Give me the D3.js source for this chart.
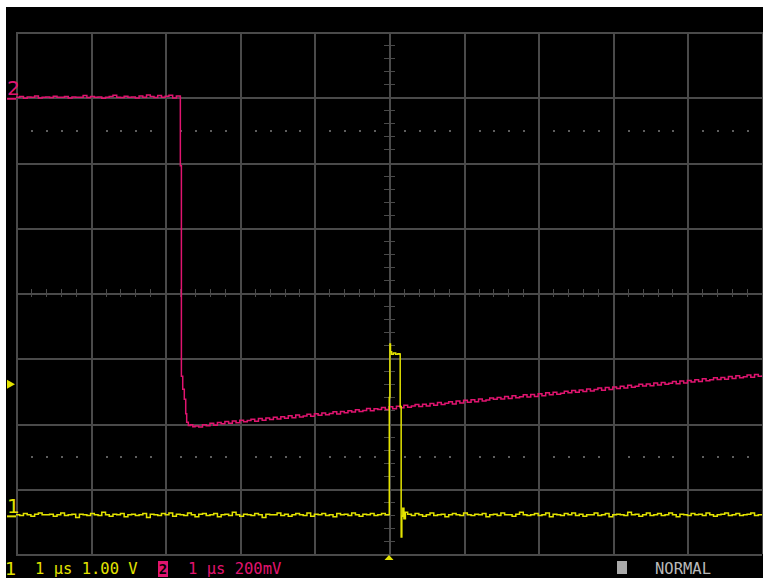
<!DOCTYPE html>
<html>
<head>
<meta charset="utf-8">
<script src="https://cdn.jsdelivr.net/npm/d3@7"></script>
<style>
  html, body { margin: 0; padding: 0; background: #fff; }
  svg { display: block; }
</style>
</head>
<body>
<svg id="scope" width="763" height="578"></svg>
<script>
// ---- Acquisition settings ----
const timeDivs = [-5, -4, -3, -2, -1, 0, 1, 2, 3, 4, 5];   // 1 µs/div, trigger at centre
const voltDivs = [-4, -3, -2, -1, 0, 1, 2, 3, 4];
const sampleStep = 0.05;                                   // µs between stored samples

const ch1VoltsPerDiv = 1.0;     // V
const ch1OffsetDiv = -3.4;
const ch2MilliVoltsPerDiv = 200; // mV
const ch2OffsetDiv = 3.0;
const triggerLevel = 2.0;       // V on CH1

// ---- CH1 (V) ----
// t = -5.00 … -0.05 µs
const ch1Pre = [
  0.00,-0.01,0.02,0.00,-0.02,0.01,0.03,0.00,0.00,0.01,
  -0.02,0.00,0.03,-0.01,0.00,0.01,-0.04,0.01,0.00,-0.01,
  0.02,0.00,-0.01,0.04,0.00,-0.02,0.01,0.00,0.02,-0.03,
  0.00,0.01,-0.01,0.00,0.02,-0.04,0.01,0.00,-0.01,0.02,
  0.00,0.03,-0.02,0.01,0.00,-0.01,0.03,0.00,-0.03,0.01,
  0.02,-0.01,0.00,0.02,-0.03,0.00,0.01,-0.01,0.04,0.00,
  -0.02,0.01,0.00,-0.01,0.02,0.00,-0.04,0.01,0.00,0.00,
  0.03,-0.01,0.01,-0.02,0.00,0.02,0.00,-0.01,0.03,-0.02,
  0.01,0.00,0.02,-0.01,0.00,-0.03,0.02,0.00,0.01,-0.01,
  0.03,0.00,-0.02,0.01,0.00,0.02,-0.01,0.00,0.02,0.00
];
// the pulse, sampled finely
const ch1PulseT = [0.000, 0.004, 0.012, 0.020, 0.035, 0.060, 0.090, 0.120, 0.145, 0.150, 0.163, 0.172, 0.185, 0.200, 0.220];
const ch1PulseV = [0.00, 1.80, 2.62, 2.50, 2.46, 2.48, 2.46, 2.47, 2.46, 1.66, -0.34, -0.02, 0.10, -0.06, 0.04];
// t = 0.25 … 5.00 µs
const ch1Post = [
  0.01,-0.01,0.02,0.00,-0.02,0.00,0.03,-0.01,0.00,0.01,
  -0.03,0.00,0.02,0.00,-0.01,0.03,0.00,-0.01,0.01,0.00,
  0.02,-0.03,0.00,0.01,-0.01,0.03,0.00,0.00,-0.02,0.01,
  0.04,0.00,-0.01,0.00,0.02,-0.01,0.00,0.03,-0.03,0.01,
  0.00,-0.01,0.02,0.00,0.03,-0.01,0.01,-0.02,0.00,0.00,
  0.03,-0.01,0.00,0.02,-0.03,0.00,0.01,0.00,-0.01,0.04,
  0.00,0.01,-0.02,0.00,0.03,-0.01,0.00,0.02,-0.01,0.00,
  0.03,0.00,-0.03,0.01,0.00,-0.01,0.02,0.00,0.01,-0.01,
  0.03,0.00,-0.02,0.00,0.01,0.03,-0.01,0.00,0.02,-0.01,
  0.00,0.01,0.03,-0.01,0.00,0.01
];

// ---- CH2 (mV) ----
// t = -5.00 … -2.85 µs
const ch2Pre = [
  0,2,-3,1,0,4,-2,0,1,-1,
  3,0,0,2,-2,1,0,0,5,-1,
  2,0,1,-3,0,2,6,0,-1,3,
  0,1,-2,4,0,7,2,-1,5,0,
  3,6,-2,4
];
// falling edge
const ch2EdgeT = [-2.800, -2.797, -2.783, -2.765, -2.744, -2.725, -2.712, -2.690, -2.660, -2.630];
const ch2EdgeV = [3, -210, -855, -895, -926, -970, -996, -1006, -1004, -1010];
// t = -2.60 … 5.00 µs
const ch2Post = [
  -1008,-1011,-1004,-1007,-999,-1005,-997,-1001,-994,-999,
  -992,-998,-990,-995,-991,-987,-993,-985,-990,-983,
  -988,-981,-986,-979,-984,-976,-982,-974,-980,-977,
  -972,-978,-970,-975,-968,-973,-969,-964,-971,-963,
  -967,-961,-965,-958,-963,-960,-954,-961,-955,-957,
  -951,-957,-949,-955,-947,-952,-944,-950,-946,-942,
  -948,-941,-946,-939,-944,-936,-942,-938,-933,-940,
  -931,-937,-929,-935,-927,-933,-925,-931,-928,-922,
  -926,-920,-925,-917,-923,-915,-921,-918,-912,-919,
  -911,-917,-909,-915,-906,-912,-904,-910,-907,-901,
  -906,-899,-904,-897,-902,-894,-900,-896,-891,-898,
  -890,-896,-888,-893,-886,-891,-883,-889,-886,-880,
  -885,-879,-884,-876,-882,-874,-880,-877,-871,-878,
  -870,-876,-868,-873,-866,-871,-863,-869,-866,-860,
  -865,-859,-864,-856,-862,-854,-860,-857,-851,-858,
  -850,-855,-852
];

const statusCh1 = "1 µs 1.00 V";
const statusCh2 = "1 µs 200mV";
const statusMode = "NORMAL";

// ---- Colours ----
const COL_BG = "#000";
const COL_GRID = "#4a4a4a";
const COL_DOT = "#5e5e5e";
const COL_CH1 = "#e3e300";
const COL_CH2 = "#e0146f";
const COL_TEXT = "#b9b9b9";

// ---- Build sample lists ----
function uniform(values, t0) {
  return values.map((v, i) => ({ t: t0 + i * sampleStep, v }));
}
function paired(ts, vs) {
  return ts.map((t, i) => ({ t, v: vs[i] }));
}
const ch1 = [].concat(uniform(ch1Pre, -5), paired(ch1PulseT, ch1PulseV), uniform(ch1Post, 0.25));
const ch2 = [].concat(uniform(ch2Pre, -5), paired(ch2EdgeT, ch2EdgeV), uniform(ch2Post, -2.6));

// ---- Scales ----
const x = d3.scaleLinear().domain([-5, 5]).range([16, 762]);
const y = d3.scaleLinear().domain([-4, 4]).range([554, 32]);   // in divisions
const ch1Div = v => v / ch1VoltsPerDiv + ch1OffsetDiv;
const ch2Div = v => v / ch2MilliVoltsPerDiv + ch2OffsetDiv;

const svg = d3.select("#scope");

svg.append("rect").attr("x", 6).attr("y", 7).attr("width", 757).attr("height", 571).attr("fill", COL_BG);

// ---- Graticule ----
const grid = svg.append("g").attr("shape-rendering", "crispEdges");
grid.selectAll("line.v").data(timeDivs).join("line")
  .attr("x1", d => Math.round(x(d)) + 0.5).attr("x2", d => Math.round(x(d)) + 0.5)
  .attr("y1", y(4)).attr("y2", y(-4))
  .attr("stroke", COL_GRID).attr("stroke-width", 2);
grid.selectAll("line.h").data(voltDivs).join("line")
  .attr("y1", d => Math.round(y(d)) + 0.5).attr("y2", d => Math.round(y(d)) + 0.5)
  .attr("x1", x(-5)).attr("x2", x(5))
  .attr("stroke", COL_GRID).attr("stroke-width", 2);

// minor ticks along the centre axes (five per division)
const minorT = d3.range(-25, 26).map(i => i / 5);
const minorV = d3.range(-20, 21).map(i => i / 5);
grid.selectAll("line.tx").data(minorT).join("line")
  .attr("x1", d => Math.round(x(d)) + 0.5).attr("x2", d => Math.round(x(d)) + 0.5)
  .attr("y1", y(0) - 4).attr("y2", y(0) + 4)
  .attr("stroke", COL_GRID).attr("stroke-width", 1.5);
grid.selectAll("line.ty").data(minorV).join("line")
  .attr("y1", d => Math.round(y(d)) + 0.5).attr("y2", d => Math.round(y(d)) + 0.5)
  .attr("x1", x(0) - 5).attr("x2", x(0) + 6)
  .attr("stroke", COL_GRID).attr("stroke-width", 1.5);

// dotted reference rows
const dotRows = [2.5, -2.5];
const dotCols = minorT.filter(d => Math.abs(d - Math.round(d)) > 1e-6);
dotRows.forEach(r => {
  grid.selectAll(null).data(dotCols).join("rect")
    .attr("x", d => Math.round(x(d))).attr("y", Math.round(y(r)))
    .attr("width", 1.5).attr("height", 1.5).attr("fill", COL_DOT);
});

// ---- Traces ----
svg.append("clipPath").attr("id", "screen")
  .append("rect").attr("x", x(-5)).attr("y", y(4)).attr("width", x(5) - x(-5)).attr("height", y(-4) - y(4));
const traces = svg.append("g").attr("clip-path", "url(#screen)");

traces.append("path")
  .datum(ch2)
  .attr("fill", "none").attr("stroke", COL_CH2).attr("stroke-width", 1.5)
  .attr("d", d3.line().curve(d3.curveStepAfter).x(d => x(d.t)).y(d => y(ch2Div(d.v))));

traces.append("path")
  .datum(ch1)
  .attr("fill", "none").attr("stroke", COL_CH1).attr("stroke-width", 1.5)
  .attr("d", d3.line().curve(d3.curveStepAfter).x(d => x(d.t)).y(d => y(ch1Div(d.v))));

// ---- Channel ground markers ----
const markerFont = "'DejaVu Sans', sans-serif";
function groundMarker(label, div, colour) {
  const yy = y(div);
  svg.append("text").attr("x", 7).attr("y", yy - 2).text(label)
    .attr("fill", colour).attr("font-family", markerFont).attr("font-size", 20);
  svg.append("line").attr("x1", 7).attr("x2", 16).attr("y1", yy + 1.5).attr("y2", yy + 1.5)
    .attr("stroke", colour).attr("stroke-width", 2);
}
groundMarker("2", ch2OffsetDiv, COL_CH2);
groundMarker("1", ch1OffsetDiv, COL_CH1);

// trigger level marker (left) and trigger position marker (bottom)
const ty = y(ch1Div(triggerLevel));
svg.append("path").attr("d", `M7,${ty - 4.5}L15,${ty}L7,${ty + 4.5}Z`).attr("fill", COL_CH1);
const tx = x(0);
svg.append("path").attr("d", `M${tx - 4.5},${y(-4) + 6}L${tx},${y(-4) + 1}L${tx + 4.5},${y(-4) + 6}Z`).attr("fill", COL_CH1);

// ---- Status line ----
const monoFont = "'DejaVu Sans Mono', monospace";
const baseY = 574;
svg.append("text").attr("x", 5).attr("y", 575).text("1")
  .attr("fill", COL_CH1).attr("font-family", markerFont).attr("font-size", 18);
svg.append("text").attr("x", 35).attr("y", baseY).text(statusCh1)
  .attr("fill", COL_CH1).attr("font-family", monoFont).attr("font-size", 15.5);
svg.append("rect").attr("x", 158).attr("y", 561).attr("width", 10).attr("height", 16).attr("fill", COL_CH2);
svg.append("text").attr("x", 163).attr("y", 574).text("2").attr("text-anchor", "middle")
  .attr("fill", "#000").attr("font-family", monoFont).attr("font-size", 14).attr("font-weight", "bold");
svg.append("text").attr("x", 188).attr("y", baseY).text(statusCh2)
  .attr("fill", COL_CH2).attr("font-family", monoFont).attr("font-size", 15.5);
svg.append("rect").attr("x", 617).attr("y", 561).attr("width", 10).attr("height", 13).attr("fill", "#aaa");
svg.append("text").attr("x", 655).attr("y", baseY).text(statusMode)
  .attr("fill", COL_TEXT).attr("font-family", monoFont).attr("font-size", 15.5);
</script>
</body>
</html>
